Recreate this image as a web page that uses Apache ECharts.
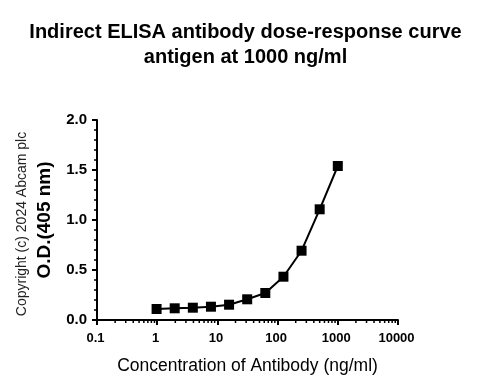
<!DOCTYPE html>
<html><head><meta charset="utf-8">
<script src="https://cdn.jsdelivr.net/npm/echarts@6/dist/echarts.min.js"></script>
<style>html,body{margin:0;padding:0;background:#fff}#c{width:491px;height:391px}</style>
</head><body><div id="c"></div>
<script>
const titleLines = ['Indirect ELISA antibody dose-response curve', 'antigen at 1000 ng/ml'];
const concentrations = [0.9765625, 1.953125, 3.90625, 7.8125, 15.625, 31.25, 62.5, 125, 250, 500, 1000];
const odValues = [0.11, 0.117, 0.123, 0.133, 0.153, 0.207, 0.27, 0.433, 0.693, 1.107, 1.54];
const xMinorTicks = [0.2,0.3,0.4,0.5,0.6,0.7,0.8,0.9, 2,3,4,5,6,7,8,9, 20,30,40,50,60,70,80,90, 200,300,400,500,600,700,800,900, 2000,3000,4000,5000,6000,7000,8000,9000];
const xLabel = 'Concentration of Antibody (ng/ml)';
const yLabel = 'O.D.(405 nm)';
const copyright = 'Copyright (c) 2024 Abcam plc';

const chart = echarts.init(document.getElementById('c'), null, {renderer:'canvas'});
const font = 'Arial, "Liberation Sans", sans-serif';
chart.setOption({
  animation: false,
  backgroundColor: '#fff',
  title: {
    text: titleLines.join('\n'), left: 'center', top: 15,
    textStyle: {fontFamily: font, fontSize: 20, fontWeight: 'bold', color: '#000', lineHeight: 25}
  },
  graphic: [{
    type: 'text', rotation: Math.PI/2,
    x: 22, y: 224,
    style: {text: copyright, font: '14px ' + font, fill: '#222', align: 'center', verticalAlign: 'middle'}
  }],
  grid: {left: 97, right: 93, top: 120, bottom: 71, containLabel: false},
  xAxis: {
    type: 'log', logBase: 10, min: 0.1, max: 10000,
    name: xLabel, nameLocation: 'middle', nameGap: 37,
    nameTextStyle: {fontFamily: font, fontSize: 17.5, color: '#000'},
    axisLine: {lineStyle: {color: '#000', width: 2}},
    axisTick: {show: true, inside: false, length: 5, lineStyle: {color: '#000', width: 2}},
    axisLabel: {fontFamily: font, fontSize: 13, fontWeight: 'bold', color: '#000', margin: 12,
      padding: [0, 3, 0, 0], formatter: v => String(v)},
    splitLine: {show: false}
  },
  yAxis: {
    type: 'value', min: 0, max: 2, interval: 0.5,
    name: yLabel, nameLocation: 'middle', nameGap: 43,
    nameTextStyle: {fontFamily: font, fontSize: 19, fontWeight: 'bold', color: '#000'},
    axisLine: {show: true, lineStyle: {color: '#000', width: 2}},
    axisTick: {show: true, inside: false, length: 5, lineStyle: {color: '#000', width: 2}},
    minorTick: {show: true, splitNumber: 5, length: 3, lineStyle: {color: '#000', width: 1.5}},
    axisLabel: {fontFamily: font, fontSize: 15, fontWeight: 'bold', color: '#000', margin: 10,
      formatter: v => v.toFixed(1)},
    splitLine: {show: false}
  },
  series: [{
    type: 'line',
    data: concentrations.map((c, i) => [c, odValues[i]]),
    symbol: 'rect', symbolSize: 10,
    itemStyle: {color: '#000'},
    lineStyle: {color: '#000', width: 2}
  }, {
    type: 'custom',
    silent: true,
    clip: false,
    data: xMinorTicks.map(v => [v, 0]),
    renderItem: (params, api) => {
      const p = api.coord([api.value(0), 0]);
      return {type: 'line', shape: {x1: p[0], y1: p[1], x2: p[0], y2: p[1] + 3},
        style: {stroke: '#000', lineWidth: 1.5}};
    }
  }]
});
</script></body></html>
